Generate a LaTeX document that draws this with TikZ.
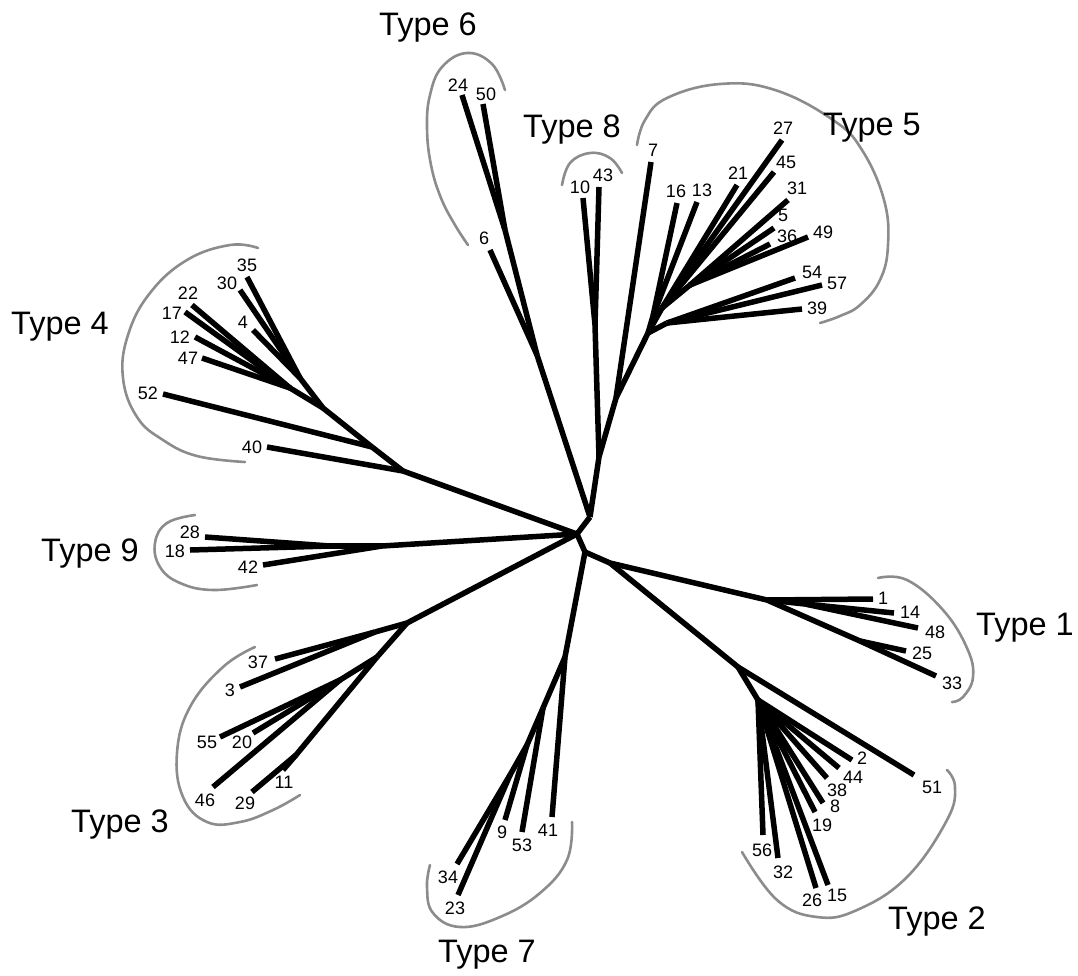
\documentclass[tikz,border=0pt]{standalone}
\usepackage{fontspec}
\setmainfont{Liberation Sans}
\begin{document}
\begin{tikzpicture}[x=1pt,y=-1pt,
  br/.style={line width=5.5pt, line join=round},
  lab/.style={font=\fontsize{18}{18}\selectfont, inner sep=0pt},
  typ/.style={font=\fontsize{32.5}{32.5}\selectfont, inner sep=0pt},
  grp/.style={black!45, line width=2.6pt, line cap=round}]
\useasboundingbox (0,0) rectangle (1078,975);
% ---------- internal nodes ----------
\coordinate (C) at (577,534);
\coordinate (U) at (590,517);
\coordinate (D) at (585,552);
\coordinate (D2) at (610,563);
\coordinate (A58) at (599,457);
\coordinate (N8) at (595,325);
\coordinate (N5a) at (616,398);
\coordinate (N5b) at (648,333);
\coordinate (N5e) at (653,316);
\coordinate (N5c) at (667,323);
\coordinate (N5d) at (662,308);
\coordinate (N5f) at (690,285);
\coordinate (N6a) at (537,355);
\coordinate (N6b) at (505,230);
\coordinate (N4a) at (403,471);
\coordinate (N4b) at (372,447);
\coordinate (N4c) at (323,408);
\coordinate (N4e) at (300,378);
\coordinate (N4f) at (290,388);
\coordinate (N9) at (382,546);
\coordinate (N9b) at (330,546);
\coordinate (N3a) at (407,623);
\coordinate (N3e) at (375,632);
\coordinate (N3b) at (377,657);
\coordinate (N3c) at (340,680);
\coordinate (N3d) at (296,755);
\coordinate (N7a) at (565,657);
\coordinate (N7b) at (543,708);
\coordinate (N7c) at (527,745);
\coordinate (N7d) at (510,775);
\coordinate (N1) at (767,600);
\coordinate (N1b) at (805,604);
\coordinate (N1c) at (860,641);
\coordinate (N2a) at (738,667);
\coordinate (N2b) at (758,700);
% ---------- leaf ends ----------
\coordinate (t10) at (583,198); \coordinate (t43) at (599,187);
\coordinate (t7) at (651,162); \coordinate (t16) at (677,203); \coordinate (t13) at (697,202);
\coordinate (t21) at (737,185); \coordinate (t27) at (782,140); \coordinate (t45) at (774,172);
\coordinate (t31) at (788,200); \coordinate (t5) at (774,228); \coordinate (t36) at (770,244);
\coordinate (t49) at (808,237); \coordinate (t54) at (795,278); \coordinate (t57) at (822,285);
\coordinate (t39) at (802,309);
\coordinate (t24) at (462,95); \coordinate (t50) at (483,104); \coordinate (t6) at (490,250);
\coordinate (t35) at (247,277); \coordinate (t30) at (240,290); \coordinate (t4) at (253,330);
\coordinate (t22) at (192,305); \coordinate (t17) at (185,312); \coordinate (t12) at (195,337);
\coordinate (t47) at (202,358); \coordinate (t52) at (163,394); \coordinate (t40) at (267,447);
\coordinate (t28) at (205,537); \coordinate (t18) at (190,550); \coordinate (t42) at (263,565);
\coordinate (t37) at (275,659); \coordinate (t3) at (240,687); \coordinate (t55) at (220,737);
\coordinate (t20) at (253,733); \coordinate (t46) at (213,787); \coordinate (t29) at (252,792);
\coordinate (t11) at (283,770);
\coordinate (t41) at (552,817); \coordinate (t53) at (522,832); \coordinate (t9) at (505,820);
\coordinate (t34) at (457,864); \coordinate (t23) at (458,895);
\coordinate (t1) at (873,599); \coordinate (t14) at (894,613); \coordinate (t48) at (918,628);
\coordinate (t25) at (906,651); \coordinate (t33) at (936,676);
\coordinate (t51) at (914,775); \coordinate (t2) at (852,760); \coordinate (t44) at (839,768);
\coordinate (t38) at (827,778); \coordinate (t8) at (823,803); \coordinate (t19) at (815,812);
\coordinate (t15) at (828,885); \coordinate (t26) at (816,888); \coordinate (t32) at (778,858);
\coordinate (t56) at (763,835);
% ---------- branches ----------
\draw[br] (C) -- (U); \draw[br] (C) -- (D); \draw[br] (D) -- (D2);
\draw[br] (U) -- (A58); \draw[br] (A58) -- (N8);
\draw[br] (N8) -- (t10); \draw[br] (N8) -- (t43);
\draw[br] (A58) -- (N5a); \draw[br] (N5a) -- (t7); \draw[br] (N5a) -- (N5b);
\draw[br] (N5b) -- (N5e); \draw[br] (N5e) -- (t16); \draw[br] (N5e) -- (t13);
\draw[br] (N5b) -- (N5c); \draw[br] (N5c) -- (t54); \draw[br] (N5c) -- (t57); \draw[br] (N5c) -- (t39);
\draw[br] (N5b) -- (N5d); \draw[br] (N5d) -- (t21); \draw[br] (N5d) -- (t27); \draw[br] (N5d) -- (t45);
\draw[br] (N5d) -- (N5f); \draw[br] (N5f) -- (t31); \draw[br] (N5f) -- (t5); \draw[br] (N5f) -- (t36); \draw[br] (N5f) -- (t49);
\draw[br] (U) -- (N6a); \draw[br] (N6a) -- (t6); \draw[br] (N6a) -- (N6b);
\draw[br] (N6b) -- (t24); \draw[br] (N6b) -- (t50);
\draw[br] (C) -- (N4a); \draw[br] (N4a) -- (t40); \draw[br] (N4a) -- (N4b);
\draw[br] (N4b) -- (t52); \draw[br] (N4b) -- (N4c);
\draw[br] (N4c) -- (N4e); \draw[br] (N4e) -- (t35); \draw[br] (N4e) -- (t30); \draw[br] (N4e) -- (t4);
\draw[br] (N4c) -- (N4f); \draw[br] (N4f) -- (t22); \draw[br] (N4f) -- (t17); \draw[br] (N4f) -- (t12); \draw[br] (N4f) -- (t47);
\draw[br] (C) -- (N9); \draw[br] (N9) -- (t42); \draw[br] (N9) -- (N9b);
\draw[br] (N9b) -- (t28); \draw[br] (N9b) -- (t18);
\draw[br] (C) -- (N3a); \draw[br] (N3a) -- (N3e); \draw[br] (N3e) -- (t37); \draw[br] (N3e) -- (t3);
\draw[br] (N3a) -- (N3b); \draw[br] (N3b) -- (N3c);
\draw[br] (N3c) -- (t55); \draw[br] (N3c) -- (t20); \draw[br] (N3c) -- (t46);
\draw[br] (N3b) -- (N3d); \draw[br] (N3d) -- (t29); \draw[br] (N3d) -- (t11);
\draw[br] (D) -- (N7a); \draw[br] (N7a) -- (t41); \draw[br] (N7a) -- (N7b);
\draw[br] (N7b) -- (t53); \draw[br] (N7b) -- (N7c); \draw[br] (N7c) -- (t9);
\draw[br] (N7c) -- (N7d); \draw[br] (N7d) -- (t34); \draw[br] (N7d) -- (t23);
\draw[br] (D2) -- (N1); \draw[br] (N1) -- (t1); \draw[br] (N1) -- (N1b);
\draw[br] (N1b) -- (t14); \draw[br] (N1b) -- (t48);
\draw[br] (N1) -- (N1c); \draw[br] (N1c) -- (t25); \draw[br] (N1c) -- (t33);
\draw[br] (D2) -- (N2a); \draw[br] (N2a) -- (t51); \draw[br] (N2a) -- (N2b);
\foreach \t in {t2,t44,t38,t8,t19,t15,t26,t32,t56} \draw[br] (N2b) -- (\t);
% ---------- leaf labels ----------
\node[lab] (l35) at (247,265) {35}; \node[lab] (l30) at (227,283) {30};
\node[lab] (l22) at (188,293) {22}; \node[lab] (l17) at (172,313) {17};
\node[lab] (l4) at (243,322) {4}; \node[lab] (l12) at (180,337) {12};
\node[lab] (l47) at (188,358) {47}; \node[lab] (l52) at (148,393) {52};
\node[lab] (l40) at (252,447) {40};
\node[lab] (l7) at (653,150) {7}; \node[lab] (l16) at (676,191) {16};
\node[lab] (l13) at (702,190) {13}; \node[lab] (l21) at (738,173) {21};
\node[lab] (l27) at (783,128) {27}; \node[lab] (l45) at (786,162) {45};
\node[lab] (l31) at (797,188) {31}; \node[lab] (l5) at (783,215) {5};
\node[lab] (l36) at (787,236) {36}; \node[lab] (l49) at (823,232) {49};
\node[lab] (l54) at (812,272) {54}; \node[lab] (l57) at (837,283) {57};
\node[lab] (l39) at (817,308) {39};
\node[lab] (l10) at (580,187) {10}; \node[lab] (l43) at (603,175) {43};
\node[lab] (l24) at (458,85) {24}; \node[lab] (l50) at (486,94) {50};
\node[lab] (l6) at (484,238) {6};
\node[lab] (l28) at (190,532) {28}; \node[lab] (l18) at (175,551) {18};
\node[lab] (l42) at (248,567) {42};
\node[lab] (l37) at (258,662) {37}; \node[lab] (l3) at (230,690) {3};
\node[lab] (l55) at (207,742) {55}; \node[lab] (l20) at (242,742) {20};
\node[lab] (l46) at (205,800) {46}; \node[lab] (l29) at (245,803) {29};
\node[lab] (l11) at (284,782) {11};
\node[lab] (l34) at (448,877) {34}; \node[lab] (l23) at (455,908) {23};
\node[lab] (l9) at (502,832) {9}; \node[lab] (l53) at (522,845) {53};
\node[lab] (l41) at (548,830) {41};
\node[lab] (l1) at (883,598) {1}; \node[lab] (l14) at (910,612) {14};
\node[lab] (l48) at (935,632) {48}; \node[lab] (l25) at (922,653) {25};
\node[lab] (l33) at (952,683) {33};
\node[lab] (l2) at (862,758) {2}; \node[lab] (l44) at (853,777) {44};
\node[lab] (l38) at (837,790) {38}; \node[lab] (l8) at (835,806) {8};
\node[lab] (l19) at (822,825) {19}; \node[lab] (l51) at (932,787) {51};
\node[lab] (l56) at (762,850) {56}; \node[lab] (l32) at (783,872) {32};
\node[lab] (l26) at (812,900) {26}; \node[lab] (l15) at (837,895) {15};
% ---------- group arcs ----------
\draw[grp] plot[smooth, tension=0.7] coordinates {(468,245) (455,225) (441,198) (431,165) (427,128) (430,95) (442,67) (467,53) (492,64) (505,90)};
\draw[grp] plot[smooth, tension=0.7] coordinates {(562,185) (570,163) (590,153) (610,158) (622,173)};
\draw[grp] plot[smooth, tension=0.7] coordinates {(637,145) (645,120) (667,98) (720,84) (775,90) (833,120) (862,150) (884,200) (888,245) (880,280) (860,305) (840,316) (820,323)};
\draw[grp] plot[smooth, tension=0.7] coordinates {(258,248) (230,245) (187,260) (150,293) (128,335) (123,378) (137,417) (163,440) (197,456) (245,462)};
\draw[grp] plot[smooth, tension=0.7] coordinates {(195,515) (167,523) (155,543) (160,567) (180,583) (213,590) (257,585)};
\draw[grp] plot[smooth, tension=0.7] coordinates {(255,647) (223,667) (190,707) (177,753) (183,797) (207,822) (240,822) (273,810) (300,795)};
\draw[grp] plot[smooth, tension=0.7] coordinates {(572,822) (567,860) (540,893) (500,917) (460,927) (433,913) (427,887) (430,865)};
\draw[grp] plot[smooth, tension=0.7] coordinates {(878,578) (907,580) (943,610) (967,648) (973,677) (963,697) (952,702)};
\draw[grp] plot[smooth, tension=0.7] coordinates {(947,770) (955,787) (947,820) (907,877) (857,910) (817,917) (777,900) (742,852)};
% ---------- type labels ----------
\node[typ] (T6) at (428,28) {Type 6};
\node[typ] (T8) at (572,130) {Type 8};
\node[typ] (T5) at (872,128) {Type 5};
\node[typ] (T4) at (60,327) {Type 4};
\node[typ] (T9) at (90,554) {Type 9};
\node[typ] (T1) at (1025,628) {Type 1};
\node[typ] (T3) at (120,825) {Type 3};
\node[typ] (T7) at (487,955) {Type 7};
\node[typ] (T2) at (937,922) {Type 2};
\end{tikzpicture}
\end{document}
